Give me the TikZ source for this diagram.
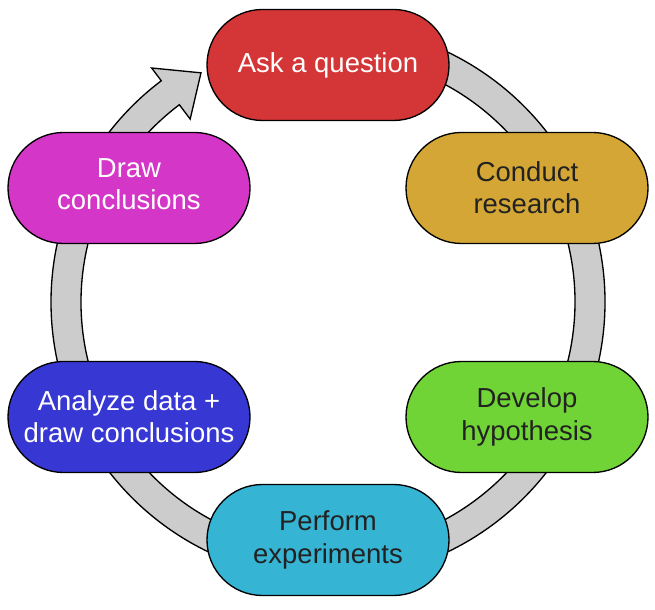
\documentclass[tikz,border=0pt]{standalone}
\usepackage{fontspec}
\setmainfont{Liberation Sans}
\usetikzlibrary{calc}

\definecolor{askred}{HTML}{D43536}
\definecolor{resgold}{HTML}{D4A636}
\definecolor{hypgreen}{HTML}{70D436}
\definecolor{expcyan}{HTML}{36B4D4}
\definecolor{anablue}{HTML}{3737D4}
\definecolor{conmag}{HTML}{D436C8}
\definecolor{ringgray}{HTML}{CCCCCC}
\definecolor{darktext}{HTML}{222222}

\begin{document}
\begin{tikzpicture}[
  x=0.75pt,y=0.75pt,
  every node/.style={font=\fontsize{20.6}{24.2}\selectfont},
  stage/.style={rectangle,rounded corners=41.6pt,draw=black,line width=1pt,
                minimum width=181.5pt,minimum height=83.25pt,inner sep=0pt,
                align=center},
  lightstage/.style={stage,text=white},
  darkstage/.style={stage,text=darktext},
  ring/.style={fill=ringgray,draw=black,line width=1pt,line join=miter}
]
\useasboundingbox (0,0) rectangle (655,609);
\coordinate (C) at (328,307);

% cycle ring with its arrow head
\draw[ring]
  ($(C)+(90:277)$) arc[start angle=90,end angle=-233,radius=277]
  -- ($(C)+(127:293)$) -- ($(C)+(119:262)$) -- ($(C)+(127:229)$)
  -- ($(C)+(127:247)$) arc[start angle=-233,end angle=90,radius=247]
  -- cycle;

\node[lightstage,fill=askred]   (ask)      at (328,544) {Ask a question};
\node[darkstage,fill=resgold]   (research) at (527,421) {Conduct\\research};
\node[darkstage,fill=hypgreen]  (hypo)     at (527,192) {Develop\\hypothesis};
\node[darkstage,fill=expcyan]   (perform)  at (328,69)  {Perform\\experiments};
\node[lightstage,fill=anablue]  (analyze)  at (129,192) {Analyze data +\\draw conclusions};
\node[lightstage,fill=conmag]   (drawc)    at (129,421) {Draw\\conclusions\rule[-6pt]{0pt}{0pt}};
\end{tikzpicture}
\end{document}
